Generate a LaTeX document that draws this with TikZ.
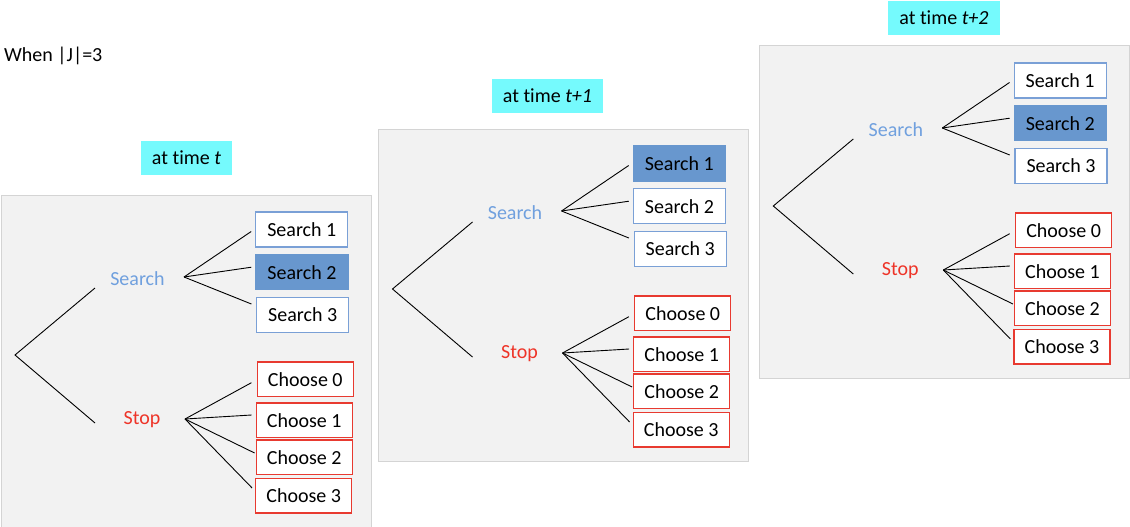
\documentclass[tikz,border=0pt]{standalone}
\usepackage{fontspec}
\setmainfont{Carlito}[Ligatures=NoCommon]
\definecolor{cyanlab}{RGB}{117,250,253}
\definecolor{panelfill}{RGB}{242,242,242}
\definecolor{paneldraw}{RGB}{212,212,212}
\definecolor{sblue}{RGB}{112,160,222}
\definecolor{bblue}{RGB}{122,160,214}
\definecolor{hblue}{RGB}{104,151,206}
\definecolor{sred}{RGB}{238,52,40}
\definecolor{bred}{RGB}{232,58,48}
\tikzset{
  txt/.style={font=\fontsize{20}{24}\selectfont, inner sep=0pt},
  sbox/.style={txt, draw=bblue, line width=1.2pt, fill=white, minimum width=92pt, minimum height=35pt},
  hbox/.style={sbox, fill=hblue, draw=hblue},
  cbox/.style={sbox, draw=bred, minimum width=96pt, minimum height=34.5pt},
  panelbox/.style={draw=paneldraw, line width=1pt, fill=panelfill, minimum width=370pt, minimum height=332pt, inner sep=0pt},
  timelabel/.style={txt, fill=cyanlab, minimum height=34pt, inner xsep=11pt},
  edge/.style={draw=black, line width=0.9pt},
}
\newcommand\treepanel[4]{%
\begin{scope}[shift={#2}, name prefix=#1-]
  \node[panelbox] (bg) at (186,361) {};
  \coordinate (root) at (15,355);
  \coordinate (sA) at (95,288);
  \coordinate (tA) at (95,423);
  \coordinate (sB) at (184,277);
  \coordinate (tB) at (185,419);
  \node[txt, text=sblue] (search) at (137.5,279) {Search};
  \node[txt, text=sred] (stop) at (142,420) {Stop};
  \node[#3] (s1) at (301.8,229.5) {Search 1};
  \node[#4] (s2) at (302,272.2) {Search 2};
  \node[sbox] (s3) at (302.7,314.7) {Search 3};
  \node[cbox] (c0) at (305.3,379.3) {Choose 0};
  \node[cbox] (c1) at (304.2,420.2) {Choose 1};
  \node[cbox] (c2) at (304.2,457.2) {Choose 2};
  \node[cbox] (c3) at (303.7,495.8) {Choose 3};
  \coordinate (e1) at ([shift={(-4,2)}]s1.west);
  \coordinate (e2) at ([shift={(-4,-5)}]s2.west);
  \coordinate (e3) at ([shift={(-4.7,-10.7)}]s3.west);
  \coordinate (f0) at ([shift={(-5.3,3.4)}]c0.west);
  \coordinate (f1) at ([shift={(-4,-5.2)}]c1.west);
  \coordinate (f2) at ([shift={(-1,-4.2)}]c2.west);
  \coordinate (f3) at ([shift={(-3,-7.8)}]c3.west);
  \draw[edge] (sA) -- (root) -- (tA);
  \draw[edge] (sB) -- (e1);
  \draw[edge] (sB) -- (e2);
  \draw[edge] (sB) -- (e3);
  \draw[edge] (tB) -- (f0);
  \draw[edge] (tB) -- (f1);
  \draw[edge] (tB) -- (f2);
  \draw[edge] (tB) -- (f3);
\end{scope}}
\begin{document}
\begin{tikzpicture}[x=1pt, y=-1pt]
  \useasboundingbox (0,0) rectangle (1130,527);
  \node[txt, anchor=west] (when) at (4,55.7) {When |J|=3};
  \treepanel{p1}{(0,0)}{sbox}{hbox}
  \treepanel{p2}{(377.5,-66)}{hbox}{sbox}
  \treepanel{p3}{(758.3,-149)}{sbox}{hbox}
  \node[timelabel] (l1) at (186.5,158) {at time \textit{t}};
  \node[timelabel] (l2) at (547.5,96) {at time \textit{t+1}};
  \node[timelabel] (l3) at (944,17.7) {at time \textit{t+2}};
\end{tikzpicture}
\end{document}
